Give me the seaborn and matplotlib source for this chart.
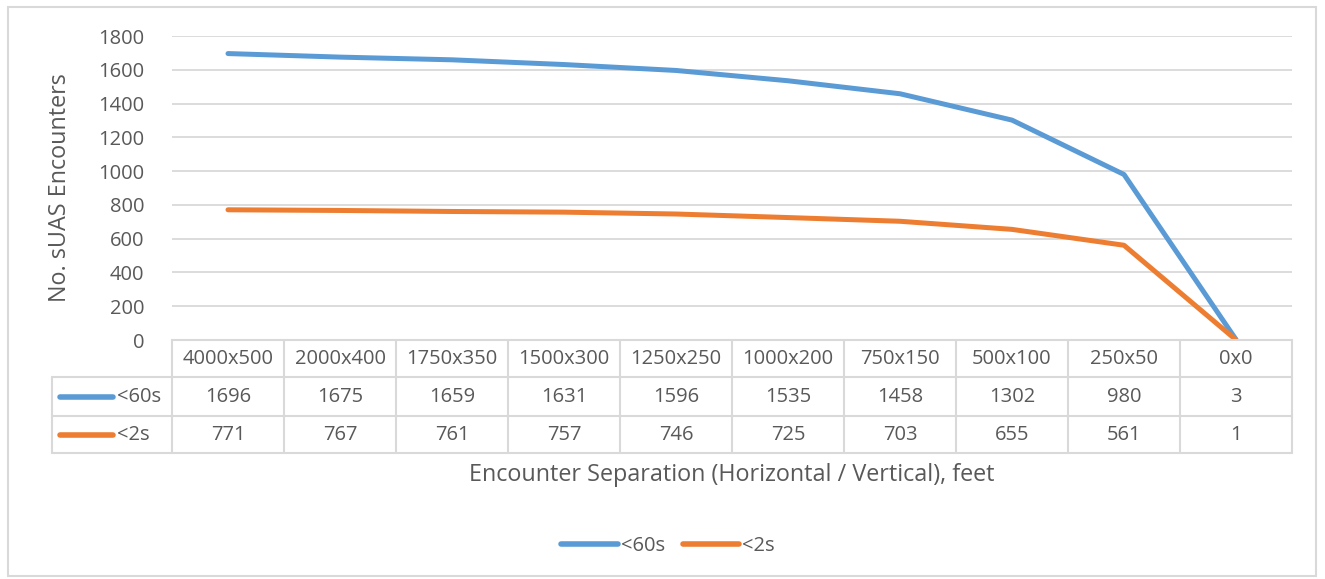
import matplotlib
matplotlib.use("Agg")
import matplotlib.pyplot as plt
import pandas as pd
import seaborn as sns
from matplotlib.lines import Line2D
from matplotlib.patches import Rectangle
from matplotlib.transforms import blended_transform_factory

# Encounter separation bins (horizontal x vertical, feet)
categories = ["4000x500", "2000x400", "1750x350", "1500x300", "1250x250",
              "1000x200", "750x150", "500x100", "250x50", "0x0"]
within_60s = [1696, 1675, 1659, 1631, 1596, 1535, 1458, 1302, 980, 3]
within_2s = [771, 767, 761, 757, 746, 725, 703, 655, 561, 1]
series_names = ["<60s", "<2s"]
series_colors = ["#5B9BD5", "#ED7D31"]
y_ticks = list(range(0, 2000, 200))

sns.set_theme(style="white")
plt.rcParams["font.family"] = ["Open Sans", "DejaVu Sans"]

TEXT = "#595959"
GRID = "#D9D9D9"
FS = 14.5
FS_TITLE = 16.8
W, H = 1325, 579

fig = plt.figure(figsize=(W / 100, H / 100), dpi=100)
fig.patch.set_facecolor("white")
fig.add_artist(Rectangle((8 / W, 1 - 576 / H), 1308 / W, 569 / H,
                         transform=fig.transFigure, fill=False,
                         edgecolor=GRID, linewidth=1.5))

ax = fig.add_axes([172 / W, 1 - 340 / H, 1120 / W, 304 / H])

n = len(categories)
df = pd.DataFrame({
    "pos": list(range(n)) * 2,
    "count": within_60s + within_2s,
    "series": [series_names[0]] * n + [series_names[1]] * n,
})
sns.lineplot(data=df, x="pos", y="count", hue="series", hue_order=series_names,
             palette=series_colors, linewidth=3.6, legend=False, ax=ax,
             sort=False, solid_capstyle="round", solid_joinstyle="round")

ax.set_xlim(-0.5, n - 0.5)
ax.set_ylim(0, 1800)
ax.set_yticks(y_ticks)
ax.set_xticks([])
ax.yaxis.grid(True, color=GRID, linewidth=1.3)
ax.set_axisbelow(True)
for s in ax.spines.values():
    s.set_visible(False)
ax.tick_params(axis="y", length=0, pad=20, labelsize=FS, labelcolor=TEXT)
ax.set_xlabel("")
ax.set_ylabel("")

# Data table below the plot
tr = blended_transform_factory(ax.transData, ax.transAxes)
ah = 304.0
r0, r1, r2, r3 = 0.0, -37 / ah, -76 / ah, -113 / ah
x_left = -0.5 - 120 / 112
lw_tab = 1.5

def hline(x0, x1, y):
    ax.add_line(Line2D([x0, x1], [y, y], transform=tr, color=GRID,
                       lw=lw_tab, clip_on=False))

def vline(x, y0, y1):
    ax.add_line(Line2D([x, x], [y0, y1], transform=tr, color=GRID,
                       lw=lw_tab, clip_on=False))

hline(-0.5, n - 0.5, r0)
for y in (r1, r2, r3):
    hline(x_left, n - 0.5, y)
for i in range(n + 1):
    vline(i - 0.5, r0, r3)
vline(x_left, r1, r3)

for i, cat in enumerate(categories):
    ax.text(i, (r0 + r1) / 2, cat, transform=tr, ha="center", va="center",
            fontsize=FS, color=TEXT)
for row, (vals, y0, y1) in enumerate([(within_60s, r1, r2), (within_2s, r2, r3)]):
    yc = (y0 + y1) / 2
    for i, v in enumerate(vals):
        ax.text(i, yc, f"{v}", transform=tr, ha="center", va="center",
                fontsize=FS, color=TEXT)
    kx0 = -0.5 - 112 / 112
    kx1 = -0.5 - 59 / 112
    ax.add_line(Line2D([kx0, kx1], [yc, yc], transform=tr,
                       color=series_colors[row], lw=4, clip_on=False,
                       solid_capstyle="round"))
    ax.text(-0.5 - 55 / 112, yc, series_names[row], transform=tr,
            ha="left", va="center", fontsize=FS, color=TEXT)

# Axis titles
fig.text(60 / W, 1 - 188 / H, "No. sUAS Encounters", rotation=90,
         ha="center", va="center", fontsize=FS_TITLE, color=TEXT)
fig.text(732 / W, 1 - 475 / H, "Encounter Separation (Horizontal / Vertical), feet",
         ha="center", va="center", fontsize=FS_TITLE, color=TEXT)

handles = [Line2D([], [], color=c, lw=4, solid_capstyle="round") for c in series_colors]
fig.legend(handles, series_names, loc="center", bbox_to_anchor=(668 / W, 1 - 546 / H),
           ncol=2, frameon=False, fontsize=FS, labelcolor=TEXT,
           handlelength=2.8, handletextpad=0.15, columnspacing=0.9)

fig.savefig("out.png", dpi=100, facecolor="white")
